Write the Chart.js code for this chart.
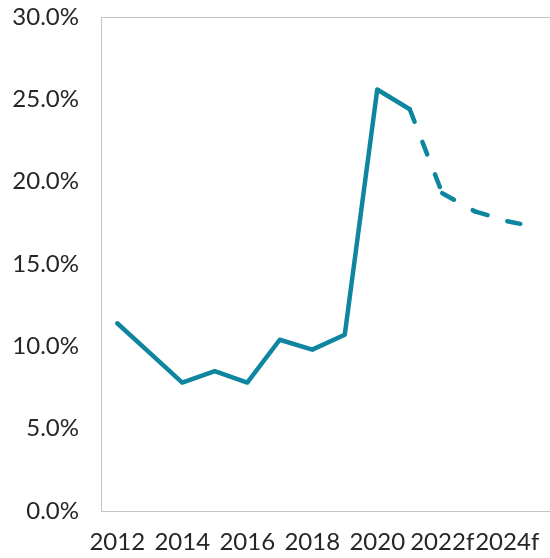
<!DOCTYPE html>
<html>
<head>
<meta charset="utf-8">
<script src="https://cdn.jsdelivr.net/npm/chart.js@4"></script>
<style>
    html, body { margin: 0; padding: 0; background: #fff; overflow: hidden; }
    canvas { display: block; }
</style>
</head>
<body>
<canvas id="rateChart" width="556" height="558"></canvas>
<script>
// years (forecast years marked with f)
const years = ['2012', '2013', '2014', '2015', '2016', '2017', '2018', '2019', '2020', '2021',
    '2022f', '2023f', '2024f', '2025f'];
// rate in percent
const rates = [11.4, 9.6, 7.8, 8.5, 7.8, 10.4, 9.8, 10.7, 25.6, 24.4, 19.3, 18.2, 17.6, 17.2];
const yTicks = [0, 5, 10, 15, 20, 25, 30];
const firstForecast = years.indexOf('2021'); // dashed from here on

const lineColor = '#0e869f';
const frameColor = '#c4c4c4';
const textColor = '#262626';

// box round the plot area (Excel style frame)
const frame = {
    id: 'frame',
    afterDraw(chart) {
        const a = chart.chartArea;
        const ctx = chart.ctx;
        ctx.save();
        ctx.strokeStyle = frameColor;
        ctx.lineWidth = 1;
        ctx.strokeRect(Math.round(a.left) + 0.5, Math.round(a.top) + 0.5,
            Math.round(a.right - a.left), Math.round(a.bottom - a.top));
        ctx.restore();
    }
};

document.addEventListener('DOMContentLoaded', function() {
    const ctx = document.getElementById('rateChart');
    new Chart(ctx.getContext('2d'), {
        type: 'line',
        data: {
            labels: years,
            datasets: [{
                data: rates,
                borderColor: lineColor,
                borderWidth: 4.5,
                borderJoinStyle: 'round',
                borderCapStyle: 'round',
                pointRadius: 0,
                tension: 0,
                fill: false,
                segment: {
                    borderDash: c => c.p0DataIndex >= firstForecast ? [13.5, 21.5] : [],
                    // tiny different offset per piece so the dash restarts on each one, like Excel
                    borderDashOffset: c => c.p0DataIndex >= firstForecast ? c.p0DataIndex * 0.01 : 0
                }
            }]
        },
        options: {
            responsive: false,
            animation: false,
            layout: { padding: { top: 17, right: 0, bottom: 0, left: 4 } },
            plugins: {
                legend: { display: false },
                tooltip: { enabled: false }
            },
            scales: {
                x: {
                    offset: true,
                    grid: { display: false, drawTicks: false },
                    border: { display: false },
                    afterFit: axis => { axis.height = 47; axis.paddingLeft = 0; axis.paddingRight = 0; },
                    ticks: {
                        autoSkip: false,
                        maxRotation: 0,
                        padding: 17,
                        color: textColor,
                        font: { family: 'Lato', size: 24 },
                        callback: (v, i) => i % 2 === 0 ? years[i] : ''
                    }
                },
                y: {
                    min: 0,
                    max: 30,
                    afterBuildTicks: axis => { axis.ticks = yTicks.map(v => ({ value: v })); },
                    afterFit: axis => { axis.width = 97; axis.paddingTop = 0; axis.paddingBottom = 0; },
                    grid: { display: false, drawTicks: false },
                    border: { display: false },
                    ticks: {
                        padding: 22,
                        color: textColor,
                        font: { family: 'Lato', size: 24 },
                        callback: v => v.toFixed(1) + '%'
                    }
                }
            }
        },
        plugins: [frame]
    });
});
</script>
</body>
</html>
